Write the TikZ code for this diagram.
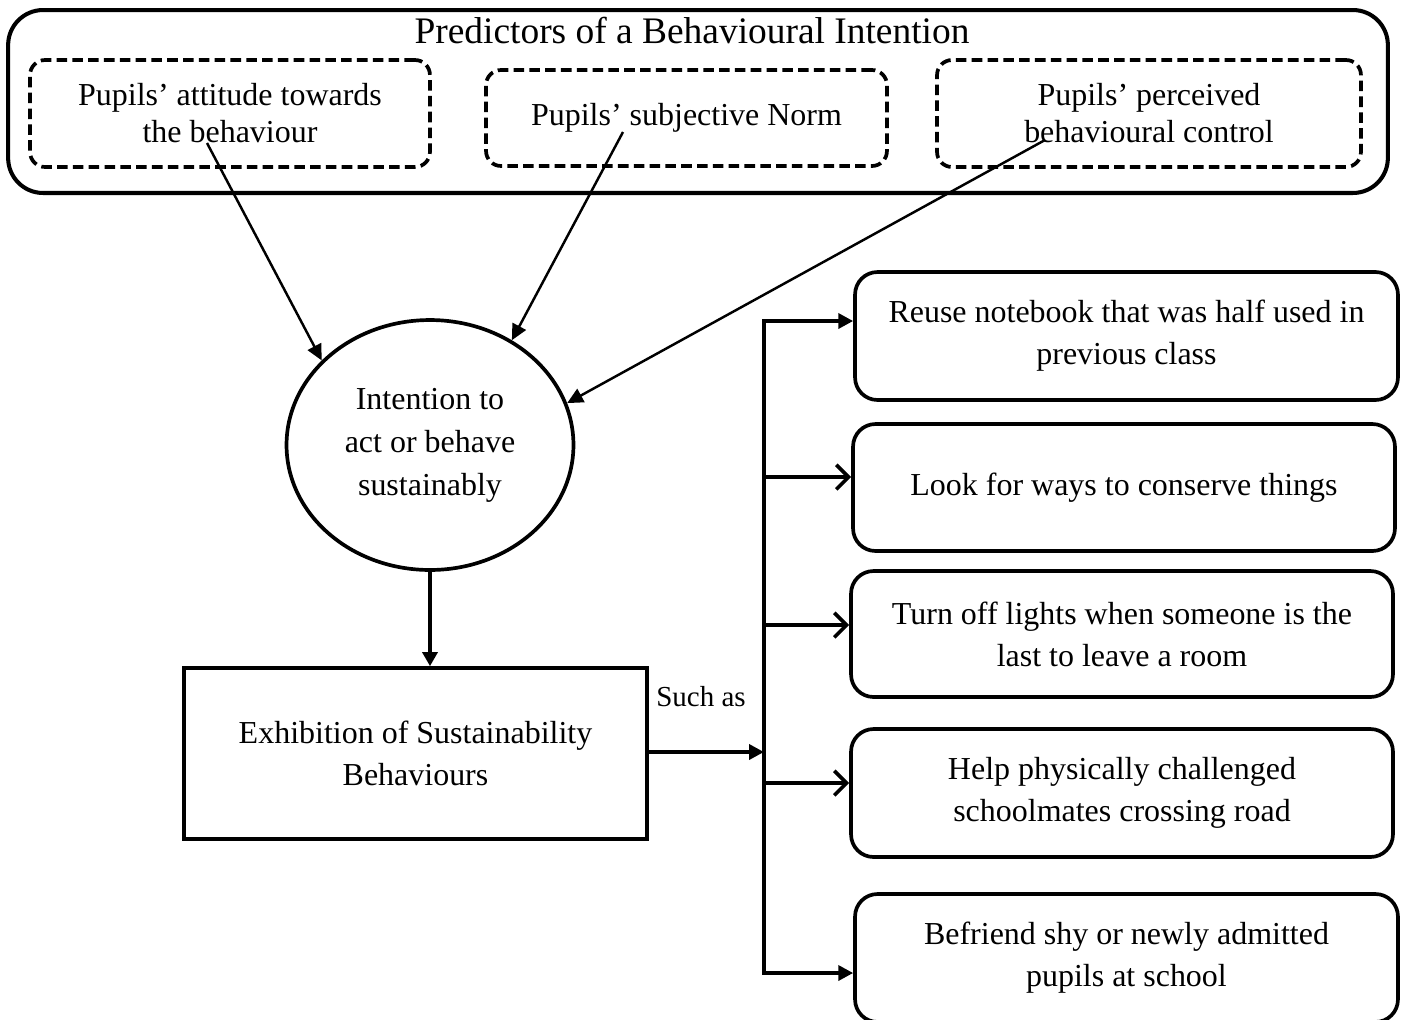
\documentclass[tikz,border=0pt]{standalone}
\usepackage{fontspec}
\setmainfont{Liberation Serif}
\usetikzlibrary{arrows.meta,shapes.geometric}

\begin{document}
\begin{tikzpicture}[x = .02cm, y = -.02cm,
		predbox/.style = {draw, dash pattern = on 6pt off 3pt, line width = 2.1pt, rounded corners = .3cm, align = center, font = \fontsize{18.2}{21}\selectfont},
		actbox/.style = {draw, line width = 2.1pt, rounded corners = .45cm, minimum width = 10.86cm, minimum height = 2.56cm, align = center, font = \fontsize{18.2}{24}\selectfont},
		thinarrow/.style = {line width = 1.4pt, -{Triangle[length = 9pt, width = 8.5pt]}},
		trunk/.style = {line width = 2.1pt},
		barb/.style = {trunk, -{Straight Barb[length = 7pt, width = 14pt, line width = 2.1pt]}}]
	\useasboundingbox (0,0) rectangle (1407,1019);
	\node[draw, line width = 2.3pt, rounded corners = .7cm, minimum width = 27.6cm, minimum height = 3.66cm] (pred) at (698,101.5) {};
	\node[font = \fontsize{21.3}{25}\selectfont] (title) at (692,30) {Predictors of a Behavioural Intention};
	\node[predbox, minimum width = 8cm, minimum height = 2.14cm] (att) at (230,113.5) {Pupils’ attitude towards\\the behaviour};
	\node[predbox, minimum width = 8.02cm, minimum height = 1.92cm] (norm) at (686.5,118) {Pupils’ subjective Norm};
	\node[predbox, minimum width = 8.48cm, minimum height = 2.14cm] (pbc) at (1149,113.5) {Pupils’ perceived\\behavioural control};
	\node[draw, ellipse, line width = 2.1pt, minimum width = 5.74cm, minimum height = 5cm, inner sep = 0pt, align = center, font = \fontsize{18.2}{24.4}\selectfont] (intent) at (430,445) {Intention to\\act or behave\\sustainably};
	\node[draw, line width = 2.1pt, minimum width = 9.26cm, minimum height = 3.42cm, align = center, font = \fontsize{18.2}{23.8}\selectfont] (exhib) at (415.5,753.5) {Exhibition of Sustainability\\Behaviours};
	\node[font = \fontsize{16.5}{20}\selectfont] (such) at (701,697) {Such as};
	\node[actbox] (reuse) at (1126.5,336) {Reuse notebook that was half used in\\previous class};
	\node[actbox, minimum width = 10.84cm, minimum height = 2.54cm] (conserve) at (1124,487.5) {Look for ways to conserve things};
	\node[actbox, minimum width = 10.84cm, minimum height = 2.52cm] (lights) at (1122,634) {Turn off lights when someone is the\\last to leave a room};
	\node[actbox, minimum width = 10.84cm] (help) at (1122,793) {Help physically challenged\\schoolmates crossing road};
	\node[actbox] (befriend) at (1126.5,958) {Befriend shy or newly admitted\\pupils at school};
	\coordinate (att-s) at (207,143);
	\coordinate (norm-s) at (623,132);
	\coordinate (pbc-s) at (1045,140);
	\coordinate (hub) at (764,752);
	\coordinate (t1) at (764,321);
	\coordinate (t2) at (764,477);
	\coordinate (t3) at (764,625);
	\coordinate (t4) at (764,783);
	\coordinate (t5) at (764,973);
	\draw[thinarrow] (att-s) -- (intent.142);
	\draw[thinarrow] (norm-s) -- (intent.52);
	\draw[thinarrow] (pbc-s) -- (intent.17);
	\draw[trunk, -{Triangle[length = 8pt, width = 8.5pt]}] (intent.south) -- (intent.south |- exhib.north);
	\draw[trunk, -{Triangle[length = 8.5pt, width = 8.5pt]}] (exhib.east |- hub) -- (hub);
	\draw[trunk, {Triangle[length = 8.5pt, width = 8.5pt]}-{Triangle[length = 8.5pt, width = 8.5pt]}] (t1 -| reuse.west) -- (t1) -- (t5) -- (t5 -| befriend.west);
	\draw[barb] (t2) -- (t2 -| conserve.west);
	\draw[barb] (t3) -- (t3 -| lights.west);
	\draw[barb] (t4) -- (t4 -| help.west);
\end{tikzpicture}
\end{document}
